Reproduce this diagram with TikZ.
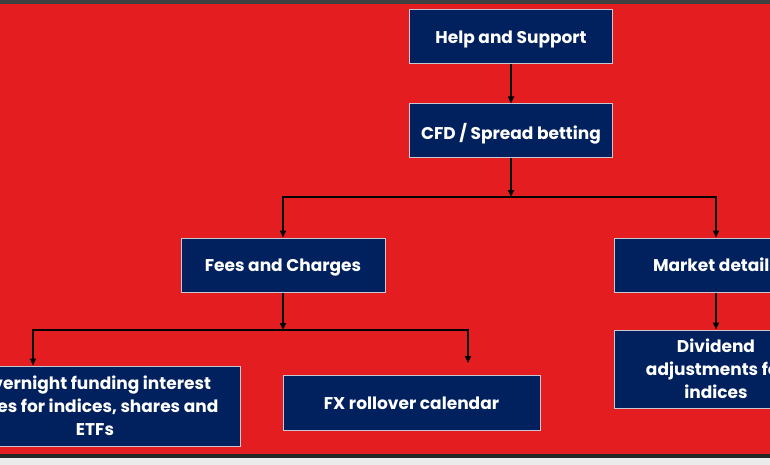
\documentclass[tikz,border=0pt]{standalone}
\usepackage{fontspec}
\setmainfont{Poppins}
\usetikzlibrary{arrows.meta, positioning}
\definecolor{hsred}{RGB}{228, 30, 32}
\definecolor{hsnavy}{RGB}{0, 32, 94}
\definecolor{hsedge}{RGB}{200, 200, 210}

\begin{document}
\begin{tikzpicture}[x=1pt, y=-1pt, >={Triangle[length=7pt, width=6pt]},
  hbox/.style={draw=hsedge, line width=1pt, fill=hsnavy, text=white,
    font=\fontsize{17}{23}\selectfont\bfseries, align=center, inner sep=0pt},
  link/.style={->, line width=1.6pt, black}]

% --- Fondo y marco ---
\useasboundingbox (0,0) rectangle (770,465);
\clip (0,0) rectangle (770,465);
\fill[white!92!black] (0,0) rectangle (770,465);
\fill[black!75] (0,0) rectangle (770,4);
\fill[hsred] (0,4) rectangle (770,454);
\fill[black!85] (0,454) rectangle (770,458);

% --- Cajas ---
\node[hbox, text depth=0pt, minimum width=203pt, minimum height=54pt] (help) at (511, 37) {Help and Support};
\node[hbox, text depth=0pt, minimum width=203pt, minimum height=54pt] (cfd) at (511, 131) {CFD / Spread betting};
\node[hbox, text depth=0pt, minimum width=204pt, minimum height=54pt] (fees) at (283, 265) {Fees and Charges};
\node[hbox, text depth=0pt, minimum width=204pt, minimum height=54pt] (mkt) at (716, 265) {Market details};
\node[hbox, minimum width=290pt, minimum height=80pt] (night) at (95, 406)
  {Overnight funding interest\\rates for indices, shares and\\ETFs};
\node[hbox, text depth=0pt, minimum width=257pt, minimum height=55pt] (fx) at (411.5, 403) {FX rollover calendar};
\node[hbox, minimum width=204pt, minimum height=78pt] (div) at (716, 369)
  {Dividend\\adjustments for\\indices};

% --- Puntos de unión ---
\coordinate (j1) at (511, 197);
\coordinate (j2) at (283, 330);

% --- Conectores ---
\draw[link] (help) -- (cfd);
\draw[link] (cfd) -- (j1);
\draw[link] (j1) -| (fees.north);
\draw[link] (j1) -| (mkt.north);
\draw[link] (fees) -- (j2);
\draw[link] (j2) -| ([xshift=-62pt]night.north);
\draw[link, shorten >=12pt] (j2) -| ([xshift=56.5pt]fx.north);
\draw[link] (mkt) -- (div);

\end{tikzpicture}
\end{document}
